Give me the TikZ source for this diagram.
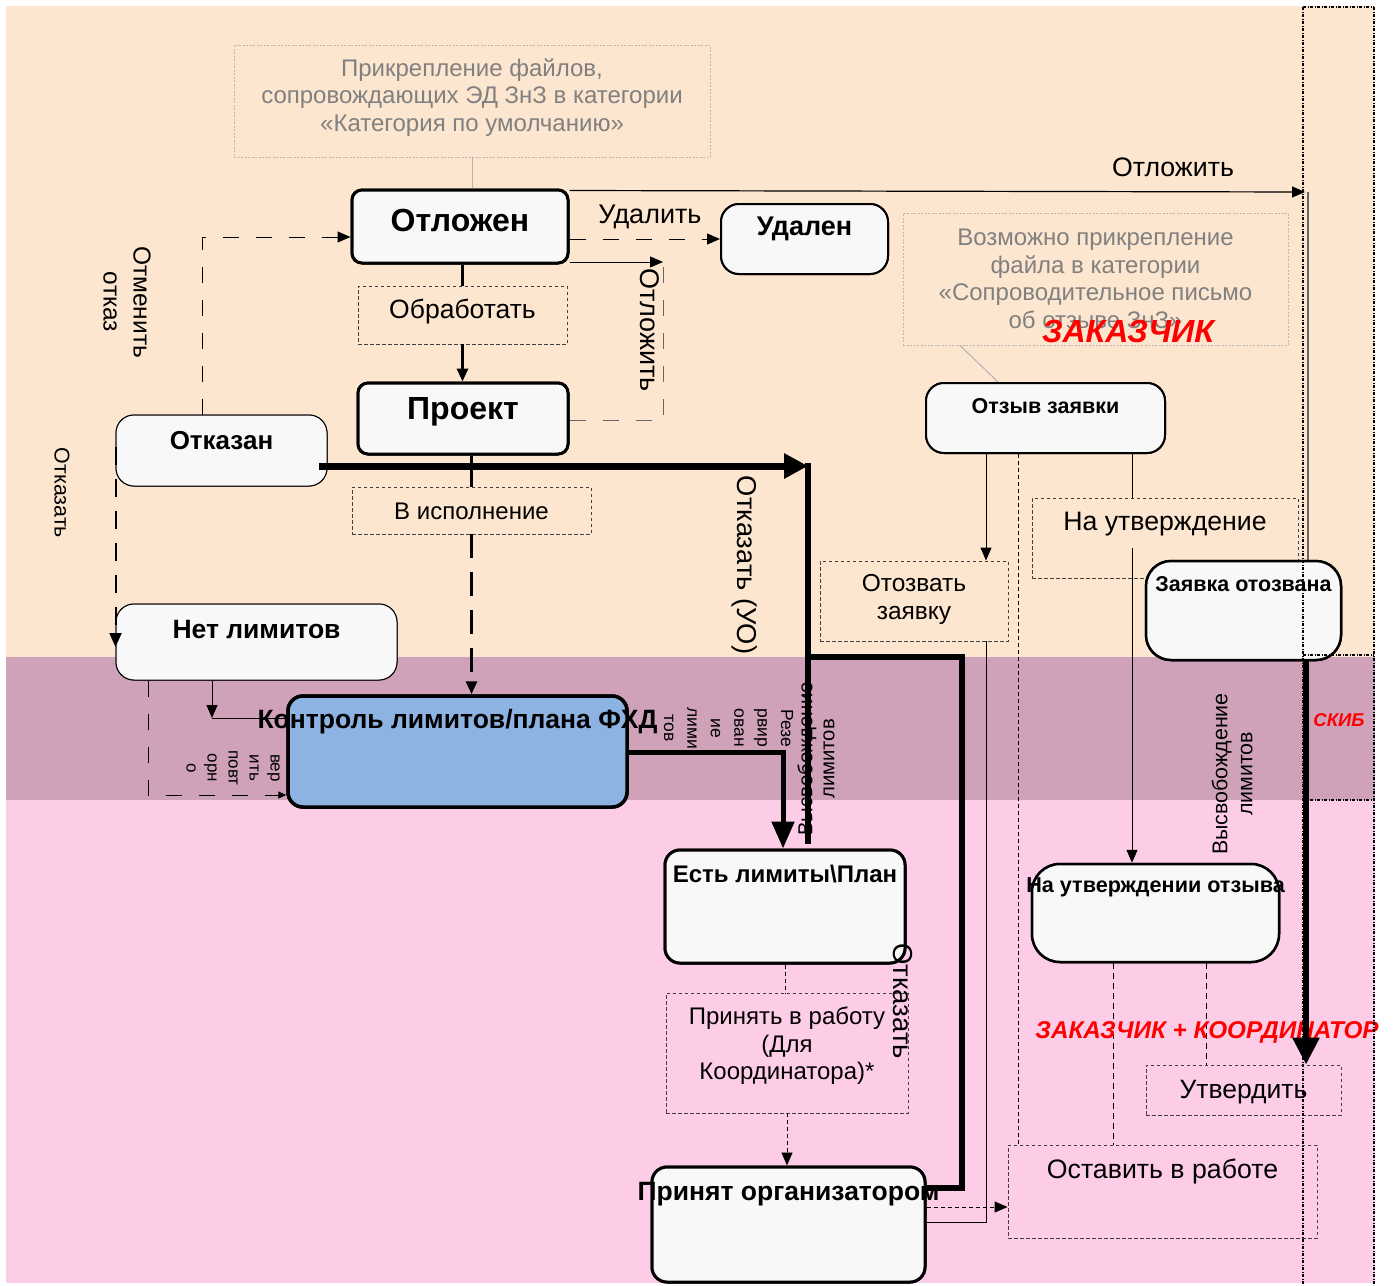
\documentclass[tikz,border=0pt]{standalone}
\usepackage{fontspec}
\setmainfont{Liberation Sans}
\usetikzlibrary{arrows.meta,calc}
\definecolor{peach}{RGB}{253,230,207}
\definecolor{mauve}{RGB}{208,162,186}
\definecolor{pinkbg}{RGB}{253,205,231}
\definecolor{nodefill}{RGB}{248,248,248}
\definecolor{ctrlblue}{RGB}{141,179,226}
\definecolor{notegray}{RGB}{128,128,128}
\newcommand{\myfs}[2]{\fontsize{#1pt}{#2pt}\selectfont}
\begin{document}
\begin{tikzpicture}[x=1pt,y=-1pt,
  state/.style={draw, fill=nodefill, rounded corners=12pt, line width=3pt, inner sep=0pt},
  actbox/.style={draw=black!75, dash pattern=on 3.5pt off 2.5pt, line width=0.9pt, inner sep=0pt},
  notebox/.style={draw=black!28, dash pattern=on 2pt off 1.5pt, line width=0.9pt, inner sep=0pt},
  txt/.style={inner sep=0pt, align=center},
  notetxt/.style={txt, text=notegray, font=\myfs{24}{27.5}},
  redlab/.style={txt, text=red},
  arr/.style={-{Triangle[length=13pt,width=11pt]}},
  sarr/.style={-{Triangle[length=8pt,width=7pt]}},
  dsh/.style={line width=1pt, dash pattern=on 16pt off 17pt},
  ldsh/.style={line width=2pt, dash pattern=on 18pt off 14pt},
  bdsh/.style={line width=3pt, dash pattern=on 24pt off 14pt},
  fdsh/.style={line width=0.9pt, dash pattern=on 4pt off 3pt},
  mdsh/.style={line width=0.9pt, dash pattern=on 6pt off 4pt},
  lane/.style={line width=1.3pt, dash pattern=on 3pt off 1.5pt on 1pt off 1.5pt}
]
\useasboundingbox (0,0) rectangle (1394,1285);
% bands
\fill[peach] (6,6) rectangle (1375,657);
\fill[mauve] (6,657) rectangle (1375,800);
\fill[pinkbg] (6,800) rectangle (1375,1283);

% notes
\node[notebox, minimum width=476pt, minimum height=112pt] (note1) at (472,101) {};
\node[notetxt] (note1t) at (472,97.5) {Прикрепление файлов,\\сопровождающих ЭД ЗнЗ в категории\\«Категория по умолчанию»};
\node[notebox, minimum width=385pt, minimum height=132pt] (note2) at (1095.5,279) {};
\node[notetxt] (note2t) at (1095.5,279) {Возможно прикрепление\\файла в категории\\«Сопроводительное письмо\\об отзыве ЗнЗ»};

% label boxes (actions)
\node[actbox, minimum width=209pt, minimum height=58pt] (obr) at (462.5,315) {};
\node[actbox, minimum width=239pt, minimum height=47pt] (vis) at (471.5,510.5) {};
\node[actbox, minimum width=242pt, minimum height=120pt] (prin) at (787,1053) {};
\node[actbox, minimum width=188pt, minimum height=80pt] (otz) at (914,601) {};
\node[actbox, minimum width=266pt, minimum height=80pt] (nau) at (1165,538) {};
\node[actbox, minimum width=195pt, minimum height=50pt] (utv) at (1243.5,1090) {};
\node[actbox, minimum width=309pt, minimum height=93pt] (ost) at (1162.5,1191.5) {};

% label partly hidden behind the control box
\node[txt, rotate=-90, font=\myfs{17}{21}] (lprov) at (245,768) {Про\\вер\\ить\\повт\\орн\\о};

% coordinates
\coordinate (c1) at (1305,192);
\coordinate (c2) at (1308,192);
\coordinate (c3) at (663,262);
\coordinate (c4) at (663,420);
\coordinate (c5) at (202,237);
\coordinate (c8) at (808,466);
\coordinate (c10) at (808,657);
\coordinate (c11) at (962,657);
\coordinate (c12) at (962,1188);
\coordinate (c13) at (212,718);
\coordinate (c14) at (148,795);
\coordinate (c15) at (783,752);
\coordinate (c16) at (986,641);
\coordinate (c17) at (986,1222);
\coordinate (c18) at (1008,1207);
\coordinate (c19) at (1018,1145);
\coordinate (c20) at (1132,548);
\coordinate (c22) at (1306,660);
\coordinate (c23) at (1113,962);
\coordinate (c24) at (1206,962);

% state boxes
\node[state, minimum width=216pt, minimum height=73pt, rounded corners=10pt] (otl) at (460,226.5) {};
\node[state, line width=2pt, minimum width=167pt, minimum height=70pt, rounded corners=18pt] (ud) at (804.5,239) {};
\node[state, line width=2pt, minimum width=239pt, minimum height=70pt, rounded corners=18pt] (otzyv) at (1045.5,418) {};
\node[state, minimum width=210pt, minimum height=71pt, rounded corners=10pt] (proj) at (463,418.5) {};
\node[state, line width=1pt, minimum width=211pt, minimum height=71pt, rounded corners=18pt] (otk) at (221.5,450.5) {};
\node[state, line width=1pt, minimum width=281pt, minimum height=76pt, rounded corners=18pt] (net) at (256.5,642) {};
\node[state, line width=3.5pt, fill=ctrlblue, minimum width=339pt, minimum height=111pt, rounded corners=15pt] (ctrl) at (457.5,751.5) {};
\node[state, minimum width=240pt, minimum height=113pt, rounded corners=15pt] (est) at (785,906.5) {};
\node[state, minimum width=273pt, minimum height=115pt, rounded corners=15pt] (org) at (788.5,1224.5) {};
\node[state, line width=2.5pt, minimum width=195pt, minimum height=99pt, rounded corners=25pt] (zo) at (1243.5,610.5) {};
\node[state, line width=2.5pt, minimum width=247pt, minimum height=98pt, rounded corners=28pt] (nuo) at (1155.5,913) {};

% connectors
\draw[black!30, line width=1pt] (note1.south) -- (note1.south |- otl.north);
\draw[black!30, line width=1pt] ([xshift=-135.5pt]note2.south) -- ([xshift=-47.5pt]otzyv.north);
\draw[line width=1.2pt, arr] ([yshift=-2pt]otl.north east) -- (c1);
\draw[black!60, line width=1.2pt] (c2) -- (c2 |- zo.north);
\draw[dsh, arr] (otl.east |- ud.west) -- (ud.west);
\draw[line width=1pt, arr] (otl.east |- c3) -- (c3);
\draw[dsh, black!60] (proj.east |- c4) -- (c4) -- (c3);
\draw[dsh, arr] (otk.north -| c5) -- (c5) -- (otl.west |- c5);
\draw[line width=3pt] (otl.south -| obr.north) -- (obr.north);
\draw[line width=3pt, arr] (obr.south) -- (obr.south |- proj.north);
\draw[line width=3pt] (vis.north |- proj.south) -- (vis.north);
\draw[bdsh, arr] (vis.south) -- (vis.south |- ctrl.north);
\draw[line width=1pt, arr] (net.south -| c13) -- (c13);
\draw[line width=1pt] (c13) -- (ctrl.west |- c13);
\draw[dsh, sarr] (net.south -| c14) -- (c14) -- (ctrl.west |- c14);
\draw[line width=5pt, -{Triangle[length=27pt,width=22pt]}] (ctrl.east |- c15) -- (c15) -- (c15 |- est.north);
\draw[line width=6pt] ($(c8)+(0,-3)$) -- ($(c8 |- est.north)+(0,-5)$);
\draw[line width=6pt] (c10) -- (c11) -- (c12) -- (org.east |- c12);
\draw[fdsh] (est.south) -- (est.south |- prin.north);
\draw[fdsh, arr] (prin.south) -- (prin.south |- org.north);
\draw[line width=1pt, arr] (otzyv.south -| c16) -- (otz.north -| c16);
\draw[line width=1pt] (otz.south -| c17) -- (c17) -- (org.east |- c17);
\draw[fdsh, arr] (org.east |- c18) -- (ost.west |- c18);
\draw[fdsh] (otzyv.south -| c19) -- (ost.north -| c19);
\draw[line width=1pt] (otzyv.south -| c20) -- (nau.north -| c20);
\draw[line width=1pt, arr] (c20) -- (nuo.north -| c20);
\draw[mdsh] (nuo.south -| c23) -- (ost.north -| c23);
\draw[mdsh] (nuo.south -| c24) -- (utv.north -| c24);

% redraw state boxes over connector ends
\node[state, minimum width=216pt, minimum height=73pt, rounded corners=10pt] (otlb) at (otl) {};
\node[state, line width=2pt, minimum width=167pt, minimum height=70pt, rounded corners=18pt] (udb) at (ud) {};
\node[state, line width=2pt, minimum width=239pt, minimum height=70pt, rounded corners=18pt] (otzyvb) at (otzyv) {};
\node[state, minimum width=210pt, minimum height=71pt, rounded corners=10pt] (projb) at (proj) {};
\node[state, line width=1pt, minimum width=211pt, minimum height=71pt, rounded corners=18pt] (otkb) at (otk) {};
\node[state, line width=1pt, minimum width=281pt, minimum height=76pt, rounded corners=18pt] (netb) at (net) {};
\node[state, line width=3.5pt, fill=ctrlblue, minimum width=339pt, minimum height=111pt, rounded corners=15pt] (ctrlb) at (ctrl) {};
\node[state, minimum width=240pt, minimum height=113pt, rounded corners=15pt] (estb) at (est) {};
\node[state, minimum width=273pt, minimum height=115pt, rounded corners=15pt] (orgb) at (org) {};
\node[state, line width=2.5pt, minimum width=195pt, minimum height=99pt, rounded corners=25pt] (zob) at (zo) {};
\node[state, line width=2.5pt, minimum width=247pt, minimum height=98pt, rounded corners=28pt] (nuob) at (nuo) {};

% connectors on top of boxes
\coordinate (c8s) at ([xshift=-9pt]otk.east);
\draw[line width=7pt, -{Triangle[length=24pt,width=24pt]}] (c8s |- c8) -- (c8);
\draw[ldsh, -{Triangle[length=14pt,width=12pt]}] ([yshift=3.5pt]otk.west) -- ([yshift=-5pt]net.west);

% box texts
\node[txt, font=\bfseries\myfs{32}{38}] (totl) at (460,220) {Отложен};
\node[txt, font=\bfseries\myfs{27}{32}] (tud) at (804.5,229) {Удален};
\node[txt, font=\bfseries\myfs{21.5}{25}] (totzyv) at (1045.5,406) {Отзыв заявки};
\node[txt, font=\bfseries\myfs{32}{38}] (tproj) at (463,412) {Проект};
\node[txt, font=\bfseries\myfs{26}{31}] (totk) at (221.5,441) {Отказан};
\node[txt, font=\bfseries\myfs{26.5}{31}] (tnet) at (256.5,630) {Нет лимитов};
\node[txt, font=\bfseries\myfs{26.5}{31}] (tctrl) at (457.5,722) {Контроль лимитов/плана ФХД};
\node[txt, font=\bfseries\myfs{24}{28}] (test) at (785,874) {Есть лимиты\textbackslash План};
\node[txt, font=\bfseries\myfs{26.5}{31}] (torg) at (788.5,1194) {Принят организатором};
\node[txt, font=\bfseries\myfs{21.5}{25}] (tzo) at (1243.5,584) {Заявка отозвана};
\node[txt, font=\bfseries\myfs{21.6}{25}] (tnuo) at (1155.5,887) {На утверждении отзыва};

% action texts
\node[txt, font=\myfs{26.5}{30}] (tobr) at (462.5,312) {Обработать};
\node[txt, font=\myfs{24}{28}] (tvis) at (471.5,511) {В исполнение};
\node[txt, font=\myfs{24}{27.5}] (tprin) at (787,1046) {Принять в работу\\(Для\\Координатора)*};
\node[txt, font=\myfs{24.5}{28}] (totz) at (914,599) {Отозвать\\заявку};
\node[txt, font=\myfs{26.7}{30}] (tnau) at (1165,524) {На утверждение};
\node[txt, font=\myfs{26.5}{30}] (tutv) at (1243.5,1092) {Утвердить};
\node[txt, font=\myfs{26.7}{30}] (tost) at (1162.5,1171) {Оставить в работе};

% connector labels
\node[txt, font=\myfs{26.7}{30}] (lotl1) at (1173,167) {Отложить};
\node[txt, font=\myfs{27}{30}] (ludal) at (650,217) {Удалить};
\node[txt, rotate=-90, font=\myfs{27}{30}] (lotl2) at (650,330) {Отложить};
\node[txt, rotate=-90, font=\myfs{24.5}{30}] (lotm) at (127,302) {Отменить\\отказ};
\node[txt, rotate=-90, font=\myfs{21.4}{25}] (lotk1) at (62,493) {Отказать};
\node[txt, rotate=-90, font=\myfs{27.3}{31}] (lotkuo) at (745,565) {Отказать (УО)};
\node[txt, rotate=90, font=\myfs{20.3}{22}] (lvys1) at (816,759) {Высвобождение\\лимитов};
\node[txt, rotate=-90, font=\myfs{17.5}{23.4}] (lrez) at (728.5,728) {Резе\\рвир\\ован\\ие\\лими\\тов};
\node[txt, rotate=-90, font=\myfs{27.5}{31}] (lotk2) at (903,1001) {Отказать};
\node[txt, rotate=90, font=\myfs{21.4}{25}] (lvys2) at (1232,774) {Высвобождение\\лимитов};

% red role labels
\node[redlab, font=\bfseries\itshape\myfs{32}{38}] (rzak) at (1128,331) {ЗАКАЗЧИК};
\node[redlab, font=\bfseries\itshape\myfs{24.3}{29}] (rzk) at (1207,1032) {ЗАКАЗЧИК + КООРДИНАТОР};
\node[redlab, font=\bfseries\itshape\myfs{18.5}{22}] (rskib) at (1339,720) {СКИБ};

% thick arrow to Утвердить
\draw[line width=6pt, -{Triangle[length=27pt,width=26pt]}] (zo.south -| c22) -- (utv.north -| c22);

% lanes
\coordinate (l1) at (1303,7);
\coordinate (l2) at (1374,7);
\coordinate (l3) at (1303,655);
\coordinate (l4) at (1374,655);
\coordinate (l5) at (1303,800);
\coordinate (l6) at (1374,800);
\coordinate (l7) at (1303,1285);
\coordinate (l8) at (1374,1285);
\draw[lane] (l1) -- (l7);
\draw[lane] (l2) -- (l8);
\draw[lane] (l1) -- (l2);
\draw[lane] (l3) -- (l4);
\draw[lane] (l5) -- (l6);
\end{tikzpicture}
\end{document}
